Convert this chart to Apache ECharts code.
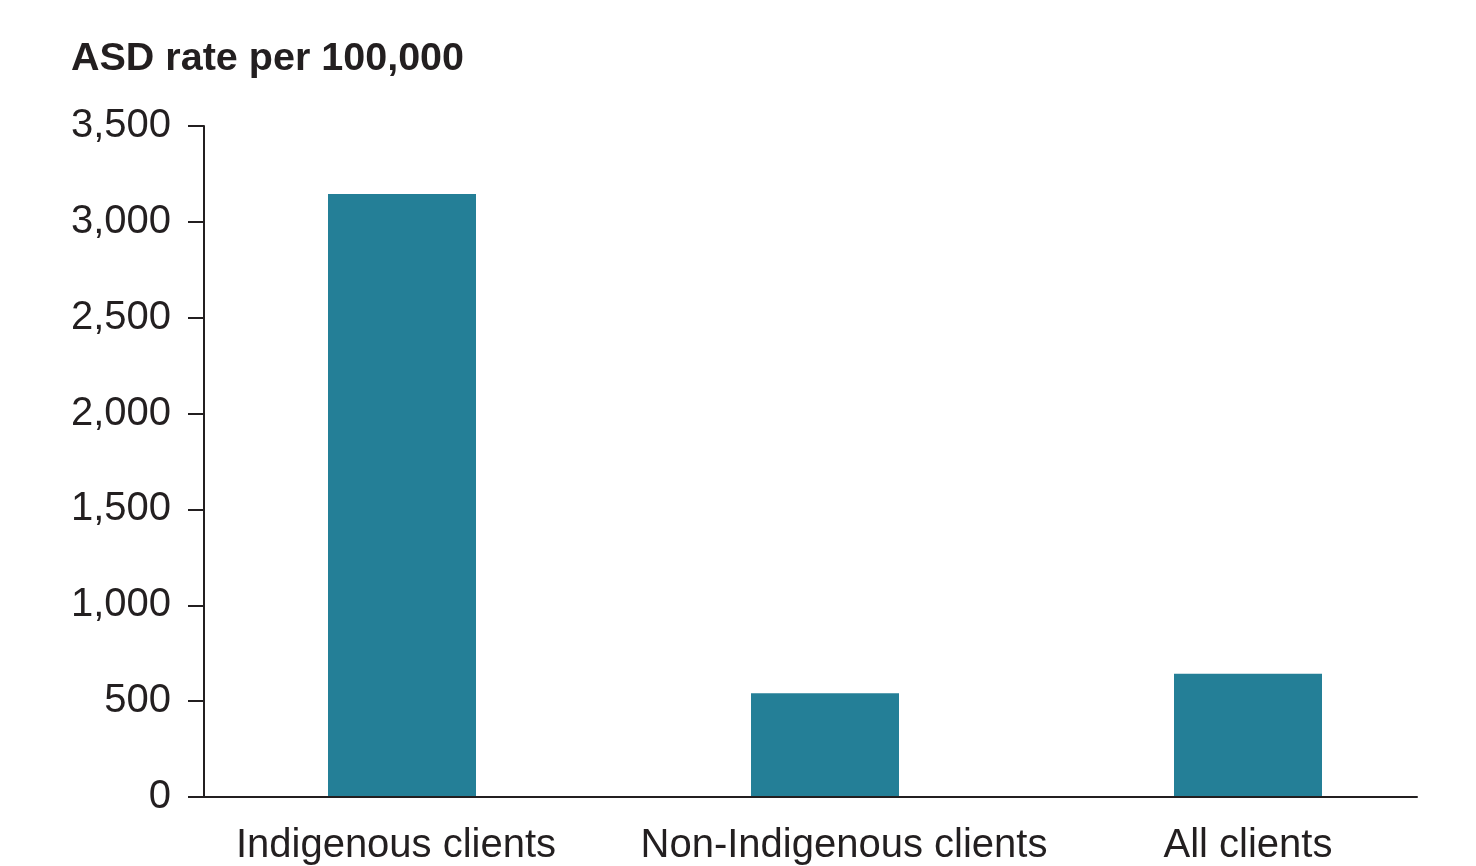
<!DOCTYPE html>
<html>
<head>
<meta charset="utf-8">
<style>
  html, body { margin: 0; padding: 0; background: #ffffff; }
  #chart { width: 1476px; height: 866px; }
</style>
<script src="https://cdn.jsdelivr.net/npm/echarts@6/dist/echarts.min.js"></script>
</head>
<body>
<div id="chart"></div>
<script>
// ASD rate per 100,000 by client group
const categories = ['Indigenous clients', 'Non-Indigenous clients', 'All clients'];
const asdRate = [3145, 537, 639];
const yTicks = [0, 500, 1000, 1500, 2000, 2500, 3000, 3500];

const ink = '#231f20';
const barColor = '#247f97';
const font = '"Liberation Sans", Arial, Helvetica, sans-serif';

// small horizontal nudges for the category captions (px, +right)
const captionShift = [-6, 19, 0];

const chart = echarts.init(document.getElementById('chart'), null, { renderer: 'canvas' });

const yMin = yTicks[0];
const yMax = yTicks[yTicks.length - 1];
const yStep = yTicks[1] - yTicks[0];

chart.setOption({
  animation: false,
  backgroundColor: '#ffffff',
  title: {
    text: 'ASD rate per 100,000',
    left: 71,
    top: 39,
    padding: 0,
    textStyle: { fontFamily: font, fontWeight: 'bold', fontSize: 39.5, color: ink }
  },
  grid: [
    // axis frame
    { left: 204, right: 59, top: 126, bottom: 69, containLabel: false },
    // bars and category captions
    { left: 190.5, right: 16.5, top: 126, bottom: 69, containLabel: false }
  ],
  xAxis: [
    {
      gridIndex: 0,
      type: 'category',
      data: categories,
      axisLine: { show: true, lineStyle: { color: ink, width: 2 } },
      axisTick: { show: false },
      axisLabel: { show: false },
      splitLine: { show: false }
    },
    {
      gridIndex: 1,
      type: 'category',
      data: categories.map((c, i) => ({
        value: c,
        textStyle: { padding: captionShift[i] >= 0 ? [0, 0, 0, 2 * captionShift[i]] : [0, -2 * captionShift[i], 0, 0] }
      })),
      axisLine: { show: false },
      axisTick: { show: false },
      axisLabel: { show: true, fontFamily: font, fontSize: 40, color: ink, margin: 30, interval: 0 },
      splitLine: { show: false }
    }
  ],
  yAxis: [
    {
      gridIndex: 0,
      type: 'value',
      min: yMin,
      max: yMax,
      interval: yStep,
      axisLine: { show: true, lineStyle: { color: ink, width: 2 } },
      axisTick: { show: true, length: 16, lineStyle: { color: ink, width: 2 } },
      axisLabel: {
        fontFamily: font, fontSize: 40, color: ink, margin: 33,
        formatter: v => v.toLocaleString('en-US')
      },
      splitLine: { show: false }
    },
    {
      gridIndex: 1,
      type: 'value',
      min: yMin,
      max: yMax,
      interval: yStep,
      show: false,
      splitLine: { show: false }
    }
  ],
  series: [
    {
      type: 'bar',
      xAxisIndex: 1,
      yAxisIndex: 1,
      data: asdRate,
      barWidth: 148,
      itemStyle: { color: barColor },
      z: 1
    }
  ]
});
</script>
</body>
</html>
